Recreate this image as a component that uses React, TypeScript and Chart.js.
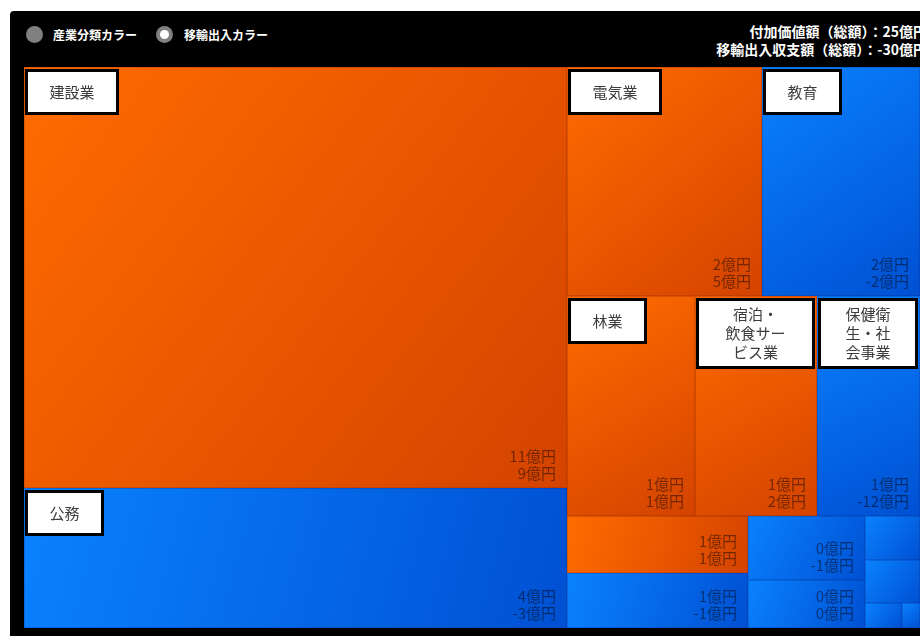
import React, { useEffect, useRef } from "react";
import { Chart, registerables } from "chart.js";

Chart.register(...registerables);

// ---- data ----
// industry names ("\n" = line breaks used in the label boxes); unlabeled small cells have no visible name
const industries = [
  "建設業",
  "公務",
  "電気業",
  "教育",
  "林業",
  "宿泊・\n飲食サー\nビス業",
  "保健衛\n生・社\n会事業",
  "",
  "",
  "",
  "",
  "",
  "",
  "",
  "",
];
// 付加価値額 (億円) — cell size
const valueAdded = [11.35, 3.79, 2.22, 1.8, 1.41, 1.34, 1.13, 0.51, 0.5, 0.365, 0.28, 0.12, 0.12, 0.046, 0.022];
// 移輸出入収支額 (億円) — cell colour (positive = orange, otherwise blue)
const netExports = [9, -3, 5, -2, 1, 2, -12, 1, -1, -1, 0, -1, -1, 0, 0];
const totalValueAdded = 25;
const totalNetExports = -30;
const colorModes = ["産業分類カラー", "移輸出入カラー"];
const selectedMode = 1;

// ---- layout parameters ----
const LAYOUT_W = 144;
const LAYOUT_H = 100;
const RATIO = (1 + Math.sqrt(5)) / 2;

type Cell = { i: number; value: number; x0: number; y0: number; x1: number; y1: number };

function squarify(values: number[], W: number, H: number, ratio: number): Cell[] {
  const nodes: Cell[] = values.map((v, i) => ({ i, value: v, x0: 0, y0: 0, x1: 0, y1: 0 }));
  let x0 = 0, y0 = 0;
  const x1 = W, y1 = H;
  let value = nodes.reduce((a, n) => a + n.value, 0);
  let i0 = 0, i1 = 0;
  const n = nodes.length;
  while (i0 < n) {
    const dx = x1 - x0, dy = y1 - y0;
    let sumValue = nodes[i1++].value;
    let minValue = sumValue, maxValue = sumValue;
    const alpha = Math.max(dy / dx, dx / dy) / (value * ratio);
    let beta = sumValue * sumValue * alpha;
    let minRatio = Math.max(maxValue / beta, beta / minValue);
    for (; i1 < n; ++i1) {
      const nv = nodes[i1].value;
      sumValue += nv;
      if (nv < minValue) minValue = nv;
      if (nv > maxValue) maxValue = nv;
      beta = sumValue * sumValue * alpha;
      const newRatio = Math.max(maxValue / beta, beta / minValue);
      if (newRatio > minRatio) {
        sumValue -= nv;
        break;
      }
      minRatio = newRatio;
    }
    const row = nodes.slice(i0, i1);
    if (dx < dy) {
      const yk = y0 + (dy * sumValue) / value;
      let x = x0;
      const k = (x1 - x0) / sumValue;
      row.forEach((nd) => {
        nd.x0 = x;
        x += nd.value * k;
        nd.x1 = x;
        nd.y0 = y0;
        nd.y1 = yk;
      });
      y0 = yk;
    } else {
      const xk = x0 + (dx * sumValue) / value;
      let y = y0;
      const k = (y1 - y0) / sumValue;
      row.forEach((nd) => {
        nd.y0 = y;
        y += nd.value * k;
        nd.y1 = y;
        nd.x0 = x0;
        nd.x1 = xk;
      });
      x0 = xk;
    }
    value -= sumValue;
    i0 = i1;
  }
  return nodes;
}

const FONT = '"Noto Sans CJK JP", "Noto Sans", sans-serif';

export default function App() {
  const canvasRef = useRef<HTMLCanvasElement>(null);

  useEffect(() => {
    const canvas = canvasRef.current;
    if (!canvas) return;
    const cells = squarify(valueAdded, LAYOUT_W, LAYOUT_H, RATIO);

    const treemapPlugin = {
      id: "treemapCells",
      afterDatasetsDraw(chart: any) {
        const ctx: CanvasRenderingContext2D = chart.ctx;
        const xs = chart.scales.x;
        const ys = chart.scales.y;
        ctx.save();
        const rects = cells.map((c) => {
          const px0 = Math.round(xs.getPixelForValue(c.x0));
          const px1 = Math.round(xs.getPixelForValue(c.x1));
          const py0 = Math.round(ys.getPixelForValue(c.y0));
          const py1 = Math.round(ys.getPixelForValue(c.y1));
          return { c, px0, px1, py0, py1 };
        });
        // cells
        rects.forEach(({ c, px0, px1, py0, py1 }) => {
          const positive = netExports[c.i] > 0;
          const g = ctx.createLinearGradient(px0, py0, px1, py1);
          g.addColorStop(0, positive ? "#ff6c00" : "#0a82ff");
          g.addColorStop(1, positive ? "#d44300" : "#0050d2");
          ctx.fillStyle = g;
          ctx.fillRect(px0, py0, px1 - px0, py1 - py0);
          ctx.strokeStyle = positive ? "rgba(150,40,0,0.3)" : "rgba(0,40,140,0.25)";
          ctx.lineWidth = 1;
          ctx.strokeRect(px0 + 0.5, py0 + 0.5, px1 - px0 - 1, py1 - py0 - 1);
        });
        // values
        ctx.font = `15px ${FONT}`;
        ctx.textAlign = "right";
        ctx.textBaseline = "middle";
        ctx.fillStyle = "rgba(0,0,0,0.47)";
        rects.forEach(({ c, px0, px1, py0, py1 }) => {
          const w = px1 - px0, h = py1 - py0;
          if (w < 70 || h < 40) return;
          ctx.fillText(`${Math.round(valueAdded[c.i])}億円`, px1 - 11, py1 - 32);
          ctx.fillText(`${Math.round(netExports[c.i])}億円`, px1 - 11, py1 - 15);
        });
        // label boxes
        rects.forEach(({ c, px0, px1, py0, py1 }) => {
          const w = px1 - px0, h = py1 - py0;
          const name = industries[c.i];
          if (!name || h < 100 || w < 60) return;
          const lines = name.split("\n");
          ctx.font = `15px ${FONT}`;
          const textW = Math.max(...lines.map((l) => ctx.measureText(l).width));
          const bw = lines.length === 1 ? Math.round(textW + 49) : w - 3;
          const bh = lines.length === 1 ? 46 : lines.length * 19 + 14;
          const bx = px0 + 1, by = py0 + 2;
          ctx.fillStyle = "#000";
          ctx.fillRect(bx, by, bw, bh);
          ctx.fillStyle = "#fff";
          ctx.fillRect(bx + 3, by + 3, bw - 6, bh - 6);
          ctx.fillStyle = "#3c3c3c";
          ctx.textAlign = "center";
          ctx.textBaseline = "middle";
          lines.forEach((l, k) => {
            ctx.fillText(l, bx + bw / 2, by + bh / 2 + (k - (lines.length - 1) / 2) * 19);
          });
        });
        ctx.restore();
      },
    };

    const chart = new Chart(canvas, {
      type: "scatter",
      data: {
        datasets: [
          {
            label: "付加価値額",
            data: cells.map((c) => ({ x: (c.x0 + c.x1) / 2, y: (c.y0 + c.y1) / 2 })),
            pointRadius: 0,
            pointHoverRadius: 0,
          },
        ],
      },
      options: {
        animation: false,
        responsive: false,
        devicePixelRatio: 1,
        events: [],
        layout: { padding: 0 },
        scales: {
          x: { type: "linear", min: 0, max: LAYOUT_W, display: false },
          y: { type: "linear", min: 0, max: LAYOUT_H, reverse: true, display: false },
        },
        plugins: { legend: { display: false }, tooltip: { enabled: false } },
      },
      plugins: [treemapPlugin],
    });
    return () => chart.destroy();
  }, []);

  const radio = (left: number, selected: boolean) => (
    <div
      style={{
        position: "absolute",
        left,
        top: 26,
        width: 17,
        height: 17,
        borderRadius: "50%",
        background: "#808080",
      }}
    >
      {selected && (
        <div
          style={{
            position: "absolute",
            left: 4,
            top: 4,
            width: 9,
            height: 9,
            borderRadius: "50%",
            background: "#fff",
          }}
        />
      )}
    </div>
  );

  const headerText: React.CSSProperties = {
    position: "absolute",
    color: "#fff",
    fontFamily: FONT,
    fontWeight: "bold",
    whiteSpace: "nowrap",
  };

  return (
    <div
      style={{
        position: "fixed",
        left: 0,
        top: 0,
        width: 920,
        height: 636,
        background: "#fff",
        overflow: "hidden",
      }}
    >
      <div
        style={{
          position: "absolute",
          left: 10,
          top: 11,
          width: 940,
          height: 660,
          background: "#000",
          borderRadius: 4,
        }}
      />
      {radio(26, selectedMode === 0)}
      <div style={{ ...headerText, left: 53, top: 26, fontSize: 12, lineHeight: "17px" }}>{colorModes[0]}</div>
      {radio(156, selectedMode === 1)}
      <div style={{ ...headerText, left: 184, top: 26, fontSize: 12, lineHeight: "17px" }}>{colorModes[1]}</div>
      <div
        style={{
          ...headerText,
          left: 560,
          width: 367,
          top: 22,
          fontSize: 14,
          lineHeight: "18px",
          textAlign: "right",
        }}
      >
        <div>付加価値額（総額）：{totalValueAdded}億円</div>
        <div>移輸出入収支額（総額）：{totalNetExports}億円</div>
      </div>
      <canvas
        ref={canvasRef}
        width={896}
        height={561}
        style={{ position: "absolute", left: 24, top: 67, width: 896, height: 561 }}
      />
    </div>
  );
}
